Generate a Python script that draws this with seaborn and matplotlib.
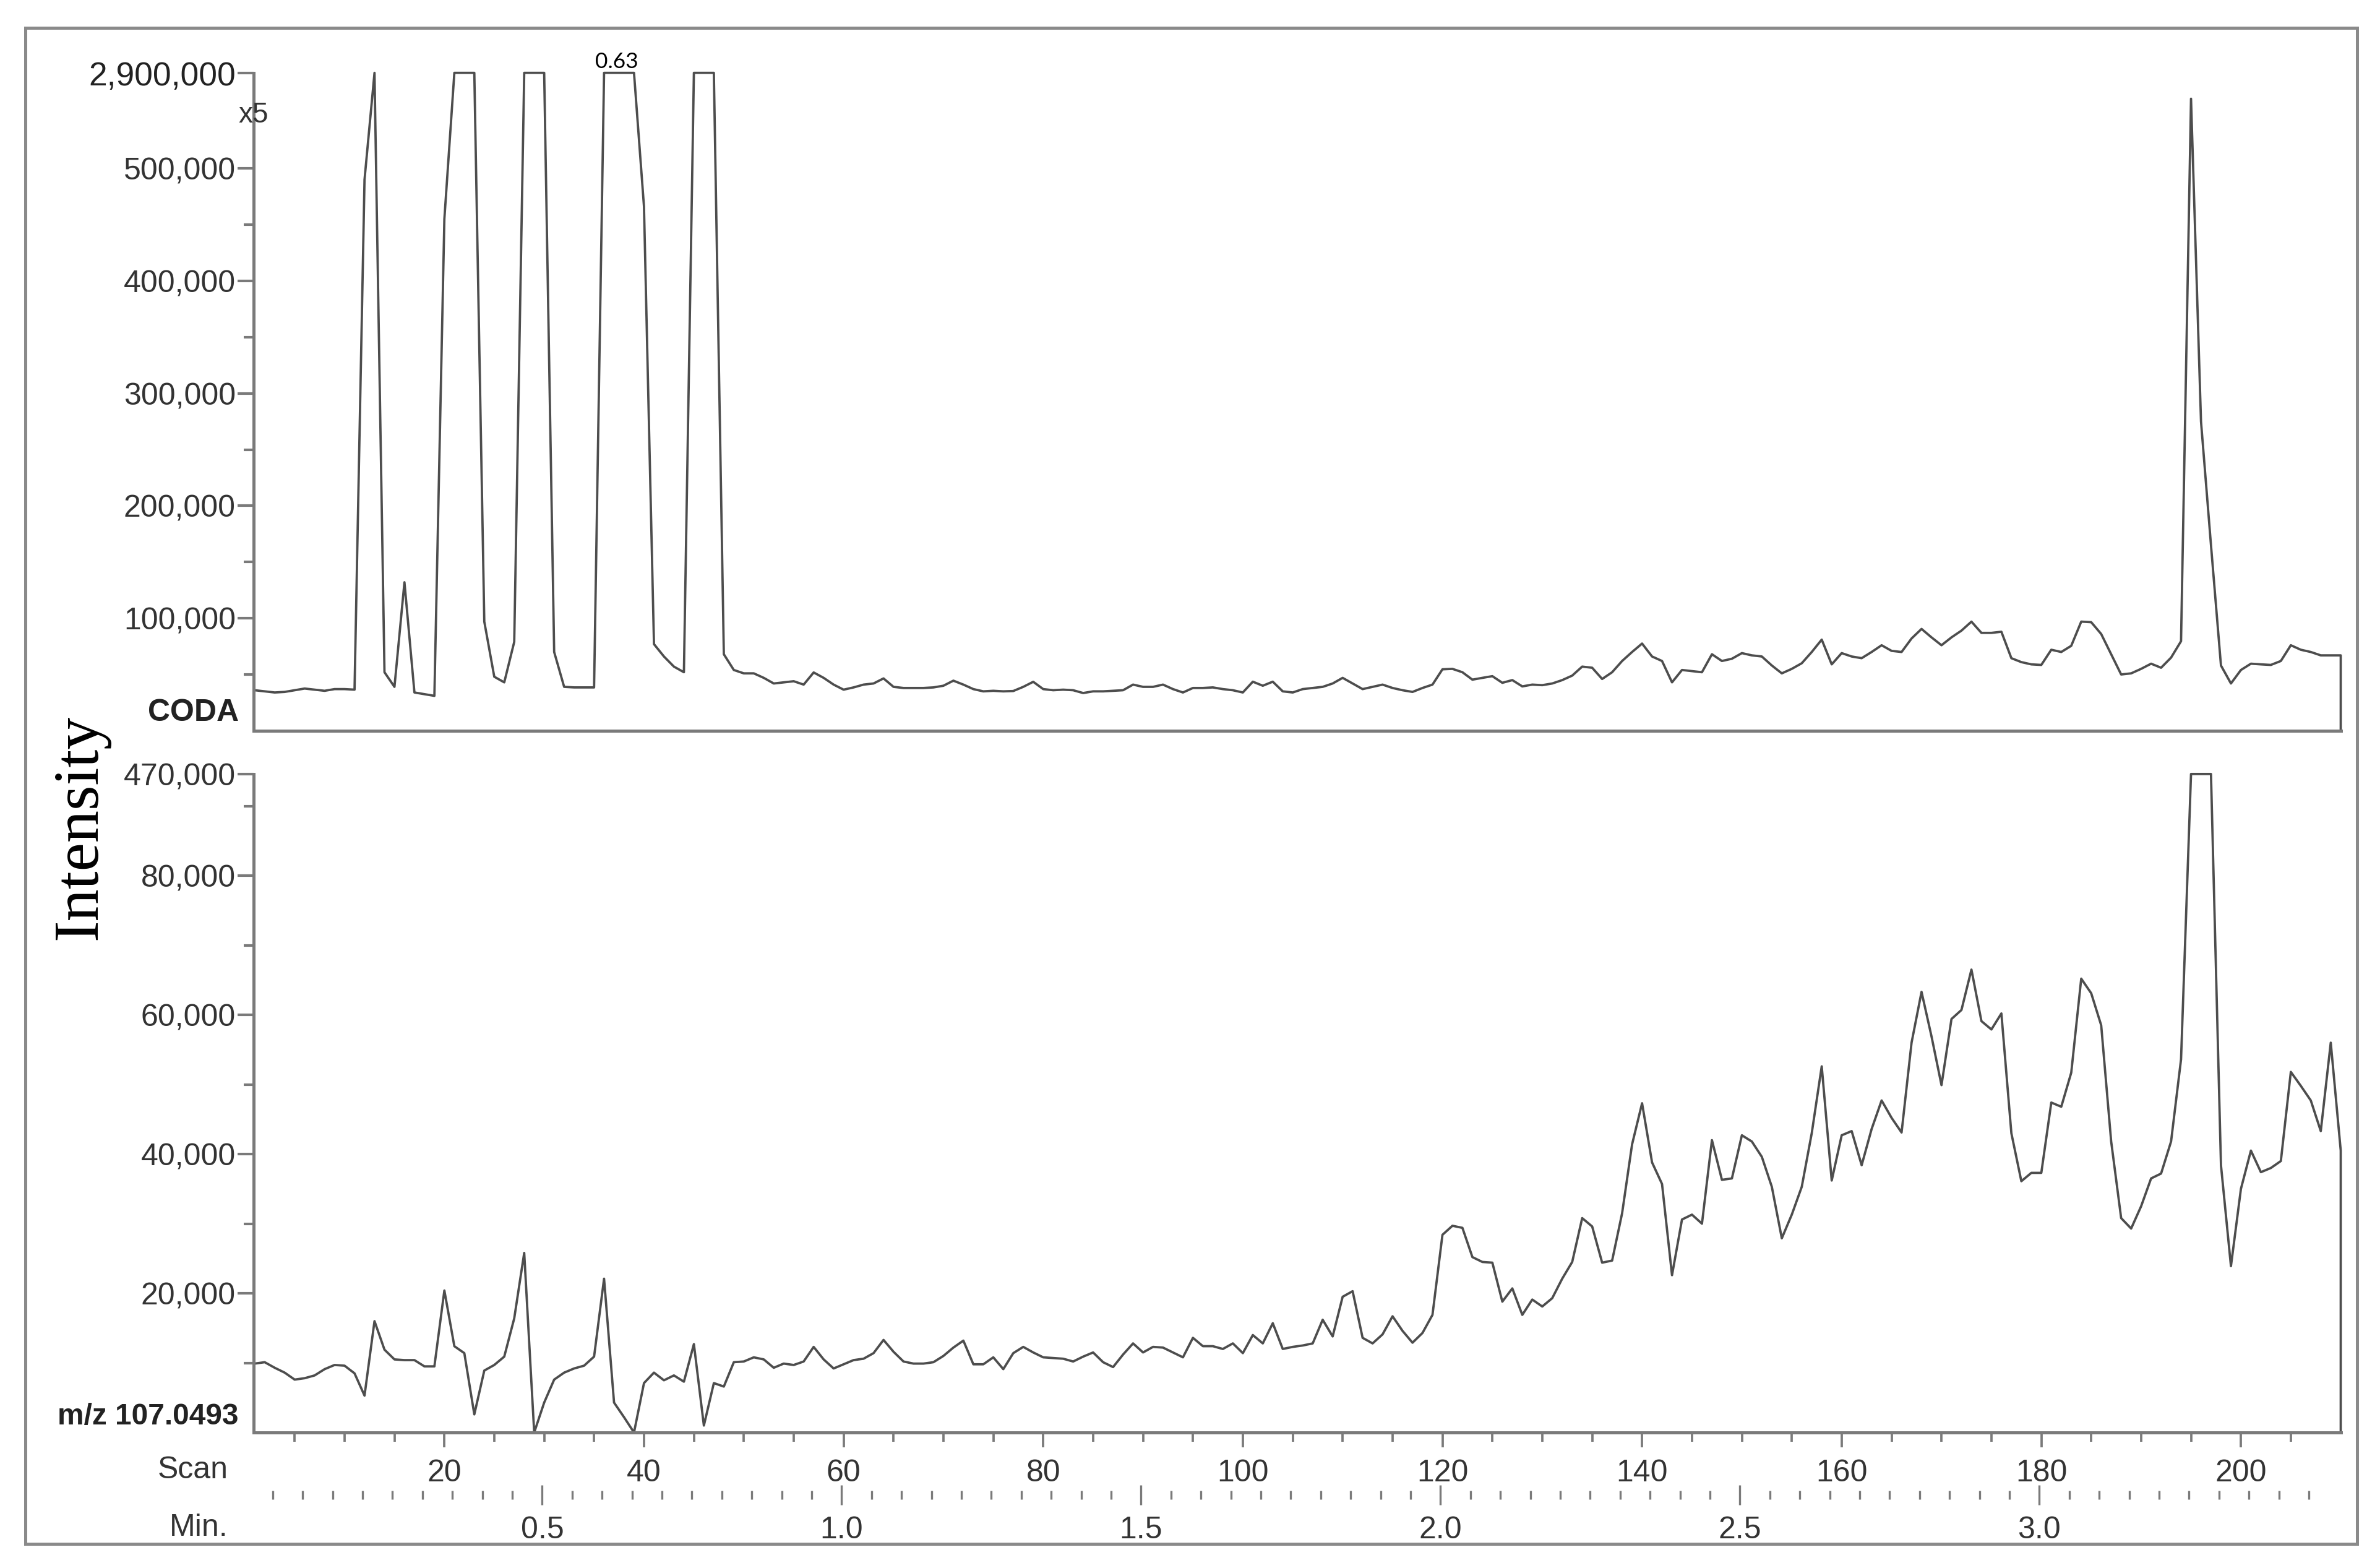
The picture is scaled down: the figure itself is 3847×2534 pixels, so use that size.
import numpy as np
import matplotlib
matplotlib.use("Agg")
import matplotlib.pyplot as plt
import seaborn as sns
from matplotlib.patches import Rectangle
from matplotlib.ticker import FixedLocator

# scan numbers 1..210
scans = np.arange(1, 211)

# CODA trace (intensity per scan)
coda = [
    36000, 35000, 34000, 34500, 36000, 37500, 36500, 35500, 37000, 37000,
    36500, 490000, 640000, 52000, 39000, 132000, 34000, 32500, 31000, 455000,
    1500000, 2100000, 1200000, 97000, 48000, 43000, 79000, 1300000, 1900000, 1100000,
    70000, 39000, 38500, 38500, 38500, 1700000, 2900000, 2400000, 900000, 466000,
    77000, 66000, 57000, 52000, 1000000, 1600000, 800000, 68000, 54000, 51000,
    51000, 47000, 42000, 43000, 44000, 41000, 51800, 47000, 41000, 36500,
    38500, 41000, 42000, 46500, 39000, 38000, 38000, 38000, 38500, 40000,
    44500, 41000, 37000, 35000, 35500, 35000, 35300, 39000, 43500, 37000,
    36000, 36500, 36000, 33500, 35000, 35000, 35500, 36000, 41000, 39000,
    39000, 41000, 37000, 34000, 38000, 38000, 38500, 37000, 36000, 34000,
    43600, 40000, 43600, 35000, 34000, 37000, 38000, 39000, 42000, 47000,
    42000, 37000, 39000, 41000, 38000, 36000, 34500, 38000, 41000, 54600,
    55000, 52000, 45400, 47000, 48500, 42600, 45000, 39400, 41000, 40500,
    42000, 45000, 49000, 57000, 56000, 46000, 52000, 62000, 70000, 77500,
    66000, 62000, 43000, 54000, 53000, 52000, 68000, 62000, 64000, 69000,
    67000, 66000, 58000, 51000, 55000, 60000, 70000, 81000, 59000, 69000,
    66000, 64500, 70000, 76000, 71000, 70000, 82000, 90500, 83000, 76000,
    83000, 89000, 97000, 87000, 87000, 88000, 64500, 61000, 59000, 58500,
    72000, 70000, 75500, 97000, 96500, 86000, 68000, 50000, 51000, 55000,
    59600, 56000, 65000, 79600, 562000, 275000, 165000, 58000, 42000, 54000,
    59600, 59000, 58500, 62000, 76000, 72000, 70000, 67000, 67000, 67000,
]

# m/z 107.0493 extracted ion trace
mz107 = [
    9900, 10100, 9300, 8600, 7600, 7800, 8200, 9100, 9700, 9600,
    8500, 5300, 16000, 11900, 10500, 10400, 10400, 9500, 9500, 20400,
    12400, 11400, 2600, 8900, 9700, 10900, 16400, 25800, 0, 4300,
    7600, 8600, 9200, 9600, 10900, 22100, 4300, 2200, 0, 7100,
    8600, 7500, 8200, 7300, 12700, 1000, 7100, 6600, 10100, 10200,
    10800, 10500, 9300, 9900, 9700, 10200, 12300, 10500, 9200, 9800,
    10400, 10600, 11400, 13300, 11600, 10200, 9900, 9900, 10100, 11000,
    12200, 13200, 9800, 9800, 10800, 9100, 11400, 12300, 11500, 10800,
    10700, 10600, 10200, 10900, 11500, 10100, 9400, 11200, 12800, 11500,
    12300, 12200, 11500, 10800, 13600, 12400, 12400, 12000, 12800, 11400,
    14000, 12800, 15700, 12000, 12300, 12500, 12800, 16200, 13800, 19500,
    20300, 13600, 12800, 14100, 16700, 14600, 12900, 14300, 16900, 28400,
    29700, 29400, 25200, 24500, 24400, 18800, 20700, 16900, 19100, 18100,
    19300, 22100, 24500, 30800, 29600, 24400, 24700, 31500, 41400, 47300,
    38800, 35700, 22600, 30600, 31300, 30000, 42000, 36300, 36500, 42700,
    41800, 39600, 35300, 27900, 31300, 35300, 43000, 52600, 36200, 42700,
    43300, 38400, 43600, 47700, 45200, 43100, 56000, 63300, 56900, 49900,
    59400, 60700, 66500, 59100, 57900, 60200, 43000, 36100, 37300, 37300,
    47400, 46800, 51700, 65200, 63100, 58500, 41800, 30800, 29300, 32500,
    36500, 37200, 41800, 53600, 250000, 470000, 210000, 38400, 23900, 35000,
    40500, 37400, 38000, 39000, 51800, 49800, 47700, 43300, 56000, 40500,
]

# y axis ticks (top tick = display ceiling, labelled with full-scale value)
coda_ceiling = 585000
coda_ticks = [100000, 200000, 300000, 400000, 500000, coda_ceiling]
coda_ticklabels = ["100,000", "200,000", "300,000", "400,000", "500,000", "2,900,000"]
coda_minor = [50000, 150000, 250000, 350000, 450000]

mz_ceiling = 94600
mz_ticks = [20000, 40000, 60000, 80000, mz_ceiling]
mz_ticklabels = ["20,000", "40,000", "60,000", "80,000", "470,000"]
mz_minor = [10000, 30000, 50000, 70000, 90000]

scan_ticks = [20, 40, 60, 80, 100, 120, 140, 160, 180, 200]
scan_minor = list(range(5, 210, 5))
min_ticks = [0.5, 1.0, 1.5, 2.0, 2.5, 3.0]
min_ticklabels = ["0.5", "1.0", "1.5", "2.0", "2.5", "3.0"]
min_minor = [round(0.05 * i, 2) for i in range(1, 70)]

sns.set_theme(style="ticks")
plt.rcParams['font.family'] = ['Liberation Sans', 'DejaVu Sans']

line_col = "#4d4d4d"
axis_col = "#7a7a7a"
text_col = "#333333"

fig = plt.figure(figsize=(3847.4 / 300, 2534.4 / 300), dpi=300)
ax1 = fig.add_axes([0.1066, 0.5339, 0.8768, 0.4195])
ax2 = fig.add_axes([0.1066, 0.0864, 0.8768, 0.4199])


def draw_trace(ax, values, ceiling):
    # trace is clipped at the display ceiling and closes down to the baseline
    y = np.minimum(np.array(values, dtype=float), ceiling)
    x = np.append(scans, scans[-1])
    y = np.append(y, 0)
    sns.lineplot(x=x, y=y, ax=ax, estimator=None, sort=False,
                 color=line_col, linewidth=0.9, clip_on=False)


draw_trace(ax1, coda, coda_ceiling)
draw_trace(ax2, mz107, mz_ceiling)

for ax, top, ticks, labels, minor in [
        (ax1, coda_ceiling, coda_ticks, coda_ticklabels, coda_minor),
        (ax2, mz_ceiling, mz_ticks, mz_ticklabels, mz_minor)]:
    ax.set_xlim(0.9, 210)
    ax.set_ylim(0, top)
    ax.set_yticks(ticks)
    ax.set_yticklabels(labels)
    ax.yaxis.set_minor_locator(FixedLocator(minor))
    ax.tick_params(axis='y', which='major', length=6.2, width=1.0,
                   color=axis_col, pad=0.8, labelsize=12, labelcolor=text_col)
    ax.tick_params(axis='y', which='minor', length=3.8, width=1.0, color=axis_col)
    for side in ['top', 'right']:
        ax.spines[side].set_visible(False)
    for side in ['left', 'bottom']:
        ax.spines[side].set_color(axis_col)
        ax.spines[side].set_linewidth(1.2)
    ax.set_xlabel("")
    ax.set_ylabel("")

ax1.get_yticklabels()[-1].set_fontsize(12.8)
ax1.get_yticklabels()[-1].set_color("#222222")
ax1.set_xticks([])

ax2.set_xticks(scan_ticks)
ax2.set_xticklabels([str(s) for s in scan_ticks])
ax2.xaxis.set_minor_locator(FixedLocator(scan_minor))
ax2.tick_params(axis='x', which='major', length=5.8, width=0.9, color=axis_col,
                pad=4.4, labelsize=12, labelcolor=text_col)
ax2.tick_params(axis='x', which='minor', length=3.6, width=0.9, color=axis_col)

# retention time axis (minutes)
sec = ax2.secondary_xaxis(-0.095, functions=(lambda s: (s + 0.2) / 60.0,
                                             lambda m: m * 60.0 - 0.2))
for sp in sec.spines.values():
    sp.set_visible(False)
sec.set_xticks(min_ticks)
sec.set_xticklabels(min_ticklabels)
sec.xaxis.set_minor_locator(FixedLocator(min_minor))
sec.tick_params(axis='x', which='major', direction='inout', length=7.7, width=0.8,
                color=axis_col, pad=4.3, labelsize=12, labelcolor=text_col)
sec.tick_params(axis='x', which='minor', direction='inout', length=3.4, width=0.8,
                color=axis_col)

# labels
fig.text(0.1003, 0.5454, "CODA", ha='right', va='center', fontsize=12,
         fontweight='bold', color="#222222")
fig.text(0.1003, 0.0967, "m/z 107.0493", ha='right', va='center', fontsize=11.5,
         fontweight='bold', color="#222222")
fig.text(0.0959, 0.0624, "Scan", ha='right', va='center', fontsize=12, color=text_col)
fig.text(0.0959, 0.0260, "Min.", ha='right', va='center', fontsize=12, color=text_col)
fig.text(0.1066, 0.9266, "x5", ha='center', va='center', fontsize=11, color=text_col)
fig.text(0.2592, 0.9605, "0.63", ha='center', va='center', fontsize=8.5,
         family=['Lato', 'DejaVu Sans'], color='black')
fig.text(0.0338, 0.4724, "Intensity", rotation=90, ha='center', va='center',
         fontsize=25, family=['Liberation Serif', 'DejaVu Serif'], color='black')

# outer frame
fig.add_artist(Rectangle((0.0107, 0.0154), 0.9797, 0.9668, transform=fig.transFigure,
                         fill=False, edgecolor="#8a8a8a", linewidth=1.2))

fig.savefig("out.png", dpi=300)
